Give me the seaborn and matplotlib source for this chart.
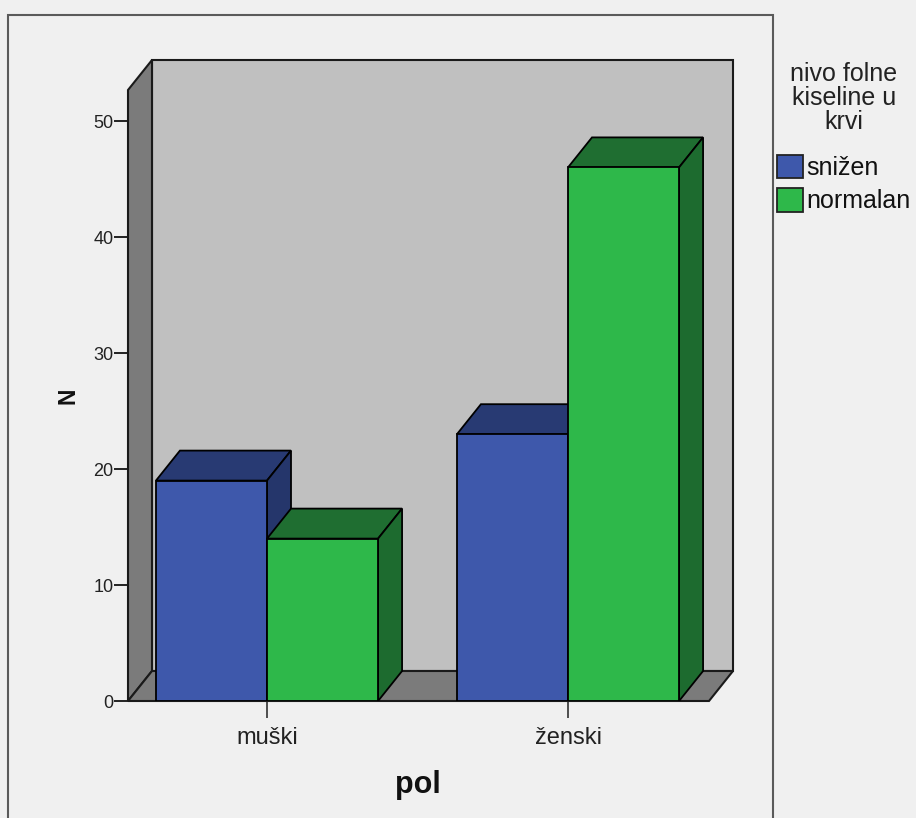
import matplotlib
matplotlib.use("Agg")
import matplotlib.pyplot as plt
from matplotlib.patches import Polygon, Rectangle
import seaborn as sns
import pandas as pd

# Counts of patients by sex and blood folic acid level
pol = ["muški", "ženski"]
nivoi = ["snižen", "normalan"]
snizen = [19, 23]
normalan = [14, 46]
y_ticks = [0, 10, 20, 30, 40, 50]

df = pd.DataFrame({
    "pol": pol * 2,
    "nivo": [nivoi[0]] * len(pol) + [nivoi[1]] * len(pol),
    "N": snizen + normalan,
})

front_colors = {"snižen": "#3e58ab", "normalan": "#2eb84a"}
top_colors = {"snižen": "#283a73", "normalan": "#1f6e31"}
side_colors = {"snižen": "#25366b", "normalan": "#1d6b2f"}

sns.set_theme(style="white")
plt.rcParams["font.family"] = ["Liberation Sans", "DejaVu Sans"]

W, H = 916, 818
fig = plt.figure(figsize=(W / 100, H / 100), dpi=100, facecolor="#f0f0f0")

# plot region in pixels
px_left, px_right, px_top, px_zero = 128, 733, 60, 701
ax = fig.add_axes([px_left / W, 1 - px_zero / H,
                   (px_right - px_left) / W, (px_zero - px_top) / H])
ax.set_facecolor("none")

unit_y = 11.6          # pixels per count
unit_x = 301.0         # pixels per category step
x_min = (px_left - 267) / unit_x
x_max = (px_right - 267) / unit_x
y_max = (px_zero - px_top) / unit_y

# depth of the 3D effect, in data units
ddx = 24 / unit_x
ddy = 30 / unit_y

sns.barplot(data=df, x="pol", y="N", hue="nivo", order=pol, hue_order=nivoi,
            palette=front_colors, width=0.738, edgecolor="black", linewidth=1.3,
            saturation=1, ax=ax)
ax.set_xlim(x_min, x_max)
ax.set_ylim(0, y_max)

# walls and floor
wall_edge = dict(edgecolor="#1a1a1a", linewidth=1.5, clip_on=False)
x_front_right = x_max - ddx
y_front_top = y_max - ddy
ax.add_patch(Polygon([(x_min + ddx, ddy), (x_max, ddy), (x_max, y_max),
                      (x_min + ddx, y_max)], closed=True,
                     facecolor="#c0c0c0", zorder=0.5, **wall_edge))
ax.add_patch(Polygon([(x_min, 0), (x_min, y_front_top), (x_min + ddx, y_max),
                      (x_min + ddx, ddy)], closed=True,
                     facecolor="#7b7b7b", zorder=0.6, **wall_edge))
ax.add_patch(Polygon([(x_min, 0), (x_front_right, 0), (x_max, ddy),
                      (x_min + ddx, ddy)], closed=True,
                     facecolor="#7b7b7b", zorder=0.6, **wall_edge))

# top and side faces of every bar
for h, (level, container) in enumerate(zip(nivoi, ax.containers)):
    for c, rect in enumerate(container.patches):
        k = c * 2 + h
        x0 = rect.get_x()
        x1 = x0 + rect.get_width()
        top = rect.get_height()
        rect.set_zorder(2 + k + 0.5)
        ax.add_patch(Polygon([(x0, top), (x1, top), (x1 + ddx, top + ddy),
                              (x0 + ddx, top + ddy)], closed=True,
                             facecolor=top_colors[level], edgecolor="black",
                             linewidth=1.3, zorder=2 + k))
        ax.add_patch(Polygon([(x1, 0), (x1 + ddx, ddy), (x1 + ddx, top + ddy),
                              (x1, top)], closed=True,
                             facecolor=side_colors[level], edgecolor="black",
                             linewidth=1.3, zorder=2 + k))

for s in ax.spines.values():
    s.set_visible(False)

ax.set_yticks(y_ticks)
ax.set_yticklabels([str(v) for v in y_ticks])
ax.tick_params(axis="y", direction="out", length=10, width=1.2, pad=0.5,
               labelsize=13, color="black", left=True)
ax.tick_params(axis="x", direction="out", length=12, width=1.2, pad=6.5,
               labelsize=17, color="#333333", bottom=True)
for lab in ax.get_xticklabels() + ax.get_yticklabels():
    lab.set_color("#222222")

ax.set_xlabel("pol", fontsize=22, fontweight="bold", color="#111111")
ax.set_ylabel("N", fontsize=16.5, fontweight="bold", color="#111111")
ax.xaxis.set_label_coords((418 - px_left) / (px_right - px_left),
                          -(770 - px_zero) / (px_zero - px_top))
ax.yaxis.set_label_coords(-(128 - 79) / (px_right - px_left),
                          (px_zero - 396) / (px_zero - px_top))

sns.move_legend(ax, loc="upper left", bbox_to_anchor=(777 / W, 1 - 62 / H),
                bbox_transform=fig.transFigure, frameon=False,
                title="nivo folne\nkiseline u\nkrvi", fontsize=18,
                title_fontsize=18, handlelength=1.04, handleheight=1.05,
                handletextpad=0.12, labelspacing=0.32, borderpad=0,
                borderaxespad=0)
leg = ax.get_legend()
leg.get_title().set_multialignment("center")
leg.get_title().set_linespacing(1.01)
leg._legend_box.align = "center"
leg._legend_box.sep = 15
for patch in leg.get_patches():
    patch.set_edgecolor("#222222")
    patch.set_linewidth(1.3)
for t in leg.get_texts():
    t.set_color("#111111")
leg.get_title().set_color("#222222")

# outer chart frame
fig.patches.append(Rectangle((8 / W, -0.01), (773 - 8) / W, 1.01 - 15 / H,
                             transform=fig.transFigure, fill=False,
                             edgecolor="#5a5a5a", linewidth=1.5))

fig.savefig("out.png", dpi=100, facecolor=fig.get_facecolor())
